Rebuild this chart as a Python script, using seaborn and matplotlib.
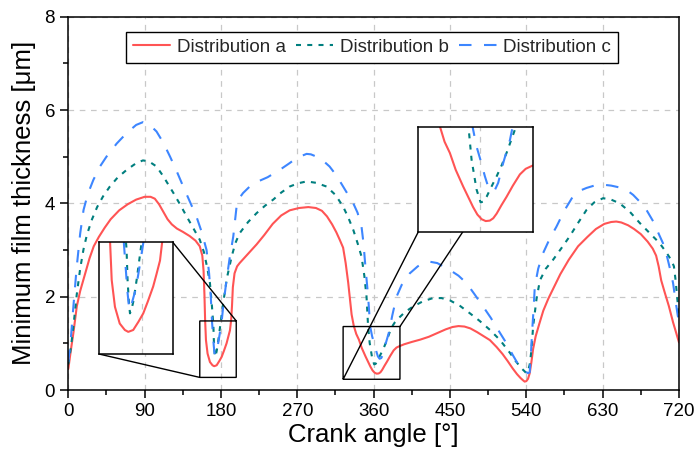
import matplotlib
matplotlib.use("Agg")
import matplotlib.pyplot as plt
import numpy as np
import pandas as pd
import seaborn as sns
from matplotlib.ticker import MultipleLocator

# Minimum oil film thickness over one engine cycle for three load distributions
angle_a = [0, 3, 6, 10, 14, 20, 25, 30, 36, 43, 50, 60, 70, 80, 90, 97, 102, 107, 112, 117,
           122, 128, 135, 143, 150, 155, 158, 159.5, 160.5, 161.3, 162.3, 164.2, 167, 170, 172,
           174.9, 178, 180.8, 183.5, 186.6, 188.5, 190.6, 192, 193, 194, 196, 199, 202, 207, 213,
           222, 231, 241, 251, 261, 272, 283, 292, 299, 305, 311, 316, 320, 324, 327, 330, 332,
           334, 336.5, 339.5, 342.6, 346, 350.4, 353.3, 356.2, 358.7, 361.2, 363.6, 366, 368, 370,
           372.8, 375.8, 379.5, 383.6, 387, 390.5, 396, 405, 415, 425, 435, 445, 453, 460, 467,
           474, 482, 490, 497, 505, 512, 518, 524, 529, 533, 536, 538, 540, 542, 544, 546, 548,
           551, 555, 560, 566, 573, 580, 590, 601, 612, 622, 632, 640, 646, 652, 660, 667, 675,
           683, 689, 693, 696, 699, 703, 708, 713, 717, 720]
film_a = [0.45, 0.85, 1.22, 1.79, 2.12, 2.5, 2.82, 3.08, 3.28, 3.48, 3.66, 3.85, 3.98, 4.08, 4.14,
          4.14, 4.1, 3.98, 3.82, 3.66, 3.55, 3.46, 3.39, 3.3, 3.2, 3.08, 2.88, 2.55, 2.05, 1.5,
          1.07, 0.78, 0.6, 0.53, 0.51, 0.53, 0.62, 0.71, 0.84, 1.0, 1.13, 1.28, 1.5, 1.8, 2.2,
          2.5, 2.65, 2.72, 2.82, 2.94, 3.12, 3.32, 3.56, 3.74, 3.85, 3.9, 3.92, 3.9, 3.84, 3.72,
          3.55, 3.38, 3.22, 3.05, 2.72, 2.3, 1.95, 1.62, 1.38, 1.2, 1.08, 0.9, 0.72, 0.61, 0.5,
          0.42, 0.37, 0.35, 0.355, 0.38, 0.43, 0.52, 0.61, 0.73, 0.85, 0.91, 0.94, 0.98, 1.03,
          1.08, 1.14, 1.22, 1.3, 1.35, 1.37, 1.36, 1.32, 1.24, 1.15, 1.07, 0.92, 0.77, 0.62,
          0.46, 0.34, 0.26, 0.21, 0.18, 0.19, 0.24, 0.36, 0.6, 0.88, 1.15, 1.4, 1.7, 1.96, 2.22,
          2.48, 2.79, 3.08, 3.28, 3.45, 3.56, 3.6, 3.61, 3.59, 3.53, 3.45, 3.34, 3.18, 3.03,
          2.88, 2.65, 2.35, 2.1, 1.8, 1.45, 1.2, 1.02]

angle_b = [0, 3, 6, 10, 14, 18, 22, 28, 34, 41, 49, 58, 69, 80, 88, 95, 104, 112, 118, 124, 132,
           139.5, 147, 155, 160, 164, 167, 169, 171, 171.6, 172.3, 173, 174, 175, 176.9, 179.8,
           182.6, 187, 192.6, 197, 202, 212, 222, 232, 241.6, 251, 261, 271, 281, 292, 304.5,
           315, 324, 330, 336, 341, 345.7, 349, 351.6, 353.4, 355.3, 358.2, 360.6, 362.3, 364.1,
           367, 370, 373, 375.8, 380.7, 385, 390, 397, 406.5, 418, 430, 440, 450, 462, 473, 485,
           497, 509, 520.5, 527, 534, 538, 540, 542, 544, 546, 548, 552, 556, 563, 571.5, 581,
           591, 601, 611, 620, 630.5, 640, 650, 662, 673.7, 685, 697, 705, 711, 714, 716, 718,
           720]
film_b = [0.55, 0.9, 1.36, 2.05, 2.6, 3.02, 3.33, 3.66, 3.92, 4.15, 4.36, 4.55, 4.72, 4.86, 4.92,
          4.9, 4.79, 4.58, 4.4, 4.22, 3.97, 3.72, 3.48, 3.22, 2.95, 2.6, 2.29, 1.88, 1.4, 1.07,
          0.85, 0.71, 0.76, 0.84, 1.07, 1.47, 1.86, 2.4, 2.86, 3.15, 3.36, 3.6, 3.79, 3.95, 4.08,
          4.23, 4.36, 4.43, 4.47, 4.44, 4.36, 4.18, 3.93, 3.7, 3.43, 3.15, 2.86, 2.45, 2.0, 1.38,
          1.01, 0.69, 0.55, 0.56, 0.61, 0.72, 0.83, 0.95, 1.08, 1.33, 1.45, 1.55, 1.67, 1.79,
          1.9, 1.97, 1.97, 1.92, 1.8, 1.65, 1.48, 1.29, 1.07, 0.8, 0.63, 0.47, 0.4, 0.36, 0.4,
          0.55, 0.85, 1.36, 1.95, 2.35, 2.6, 2.79, 3.03, 3.29, 3.58, 3.86, 4.02, 4.11, 4.08, 4.0,
          3.82, 3.58, 3.37, 3.15, 2.95, 2.78, 2.65, 2.35, 1.95, 1.62]

angle_c = [0, 3, 6, 10, 14, 18, 23, 29.5, 37, 45, 57, 69, 80, 88, 95, 104, 112, 120, 128, 135.5,
           143, 151, 157, 163, 166, 168, 169.5, 170.5, 171.5, 172.6, 173.5, 175, 176.5, 178.5,
           180.8, 183, 186.6, 190, 194.5, 198.4, 202, 206, 215, 225, 235, 249.5, 260, 270, 281,
           286, 292.7, 300, 308, 316, 324, 330, 336, 341, 345.7, 348, 349.6, 351.5, 353.5,
           355.9, 358.2, 360.6, 363.1, 365, 367, 369, 370.9, 373.8, 377.8, 382, 387, 393, 402.6,
           412, 420, 426, 435, 450, 460, 469.5, 479, 489, 498, 507, 516.6, 524, 532, 537, 542,
           544, 545.5, 547, 548.5, 550, 554, 559.7, 567, 575.5, 585, 595, 603, 611, 620, 630.5,
           640, 650, 658, 666, 674, 681.6, 690, 696, 701, 706, 710, 713, 716, 718.5, 720]
film_c = [0.6, 1.1, 1.79, 2.65, 3.35, 3.86, 4.2, 4.5, 4.78, 5.0, 5.28, 5.51, 5.68, 5.74, 5.7,
          5.54, 5.3, 5.0, 4.68, 4.36, 4.05, 3.72, 3.4, 3.0, 2.5, 2.0, 1.45, 1.2, 0.95, 0.75,
          0.78, 0.88, 0.98, 1.2, 1.47, 1.85, 2.36, 2.8, 3.29, 3.93, 4.12, 4.22, 4.38, 4.48,
          4.56, 4.72, 4.85, 4.98, 5.06, 5.05, 5.0, 4.92, 4.79, 4.6, 4.36, 4.18, 4.0, 3.8, 3.5,
          3.15, 2.79, 2.4, 2.0, 1.36, 1.15, 1.0, 0.83, 0.72, 0.67, 0.685, 0.76, 0.97, 1.22, 1.6,
          2.0, 2.25, 2.5, 2.65, 2.73, 2.75, 2.72, 2.57, 2.45, 2.29, 2.05, 1.79, 1.55, 1.28, 1.0,
          0.75, 0.5, 0.42, 0.36, 0.38, 0.8, 1.3, 1.72, 2.22, 2.6, 2.93, 3.22, 3.5, 3.85, 4.15,
          4.27, 4.33, 4.38, 4.4, 4.38, 4.34, 4.29, 4.18, 4.03, 3.86, 3.6, 3.35, 3.15, 2.85,
          2.55, 2.29, 1.9, 1.6, 1.47]

series_names = ["Distribution a", "Distribution b", "Distribution c"]
x_ticks = [0, 90, 180, 270, 360, 450, 540, 630, 720]
y_ticks = [0, 2, 4, 6, 8]

# zoom windows (angle range, film range)
zoom1_x, zoom1_y = (155, 198), (0.27, 1.48)
zoom2_x, zoom2_y = (324, 391), (0.23, 1.36)

frames = []
for name, a, h in zip(series_names, [angle_a, angle_b, angle_c], [film_a, film_b, film_c]):
    frames.append(pd.DataFrame({"angle": a, "h": h, "dist": name}))
df = pd.concat(frames, ignore_index=True)

palette = {"Distribution a": "#ff5454", "Distribution b": "#007f7f", "Distribution c": "#3d86ff"}
dash_map = {"Distribution a": "", "Distribution b": (2.4, 3.0), "Distribution c": (6, 6)}

sns.set_theme(style="ticks")
plt.rcParams["font.family"] = ["Liberation Sans", "DejaVu Sans"]
plt.rcParams["axes.edgecolor"] = "black"

fig = plt.figure(figsize=(6.99, 4.57), dpi=100)
ax = fig.add_axes([0.0977, 0.1466, 0.8737, 0.8169])

grid_kw = dict(linestyle=(0, (4.5, 4.5)), color="#c8c8c8", linewidth=0.9)


def draw_curves(target, show_legend):
    sns.lineplot(data=df, x="angle", y="h", hue="dist", style="dist",
                 palette=palette, dashes=dash_map, estimator=None, sort=False,
                 linewidth=1.5, ax=target, legend=show_legend)


draw_curves(ax, True)
ax.set_xlim(0, 720)
ax.set_ylim(0, 8)
ax.set_xticks(x_ticks)
ax.set_yticks(y_ticks)
ax.xaxis.set_minor_locator(MultipleLocator(45))
ax.yaxis.set_minor_locator(MultipleLocator(1))
ax.tick_params(which="major", direction="out", length=6, width=1.1, labelsize=13.5,
               color="black", labelcolor="black", bottom=True, left=True)
ax.tick_params(which="minor", direction="out", length=3.5, width=1.1, color="black",
               bottom=True, left=True)
for sp in ax.spines.values():
    sp.set_linewidth(1.1)
    sp.set_color("black")
ax.set_axisbelow(True)
ax.grid(True, which="major", **grid_kw)
ax.set_xlabel("Crank angle [°]", fontsize=18.5, color="black", labelpad=2)
ax.set_ylabel("Minimum film thickness [μm]", fontsize=18.5, color="black", labelpad=6)

handles, labels = ax.get_legend_handles_labels()
ax.legend(handles=handles, labels=labels, ncol=3, loc="upper center",
          bbox_to_anchor=(0.497, 0.958), borderaxespad=0, fontsize=13.5,
          frameon=True, fancybox=False, edgecolor="black", framealpha=1,
          handlelength=2.0, handletextpad=0.35, columnspacing=0.55, borderpad=0.35)
ax.get_legend().get_frame().set_linewidth(1.0)
ax.get_legend().set_zorder(10)


def add_zoom(bounds, xr, yr):
    axins = ax.inset_axes(bounds, transform=ax.transData)
    draw_curves(axins, False)
    axins.set_xlim(*xr)
    axins.set_ylim(*yr)
    axins.xaxis.set_major_locator(MultipleLocator(90))
    axins.yaxis.set_major_locator(MultipleLocator(2))
    axins.tick_params(which="both", length=0, labelbottom=False, labelleft=False)
    axins.set_xlabel("")
    axins.set_ylabel("")
    axins.set_axisbelow(True)
    axins.grid(True, which="major", **grid_kw)
    for sp in axins.spines.values():
        sp.set_linewidth(1.1)
        sp.set_color("black")
    ax.indicate_inset_zoom(axins, edgecolor="black", alpha=1, linewidth=1.0)
    return axins


add_zoom([36.5, 0.77, 86.5, 2.4], zoom1_x, zoom1_y)
add_zoom([412.4, 3.38, 134.9, 2.26], zoom2_x, zoom2_y)

fig.savefig("out.png", dpi=100)
